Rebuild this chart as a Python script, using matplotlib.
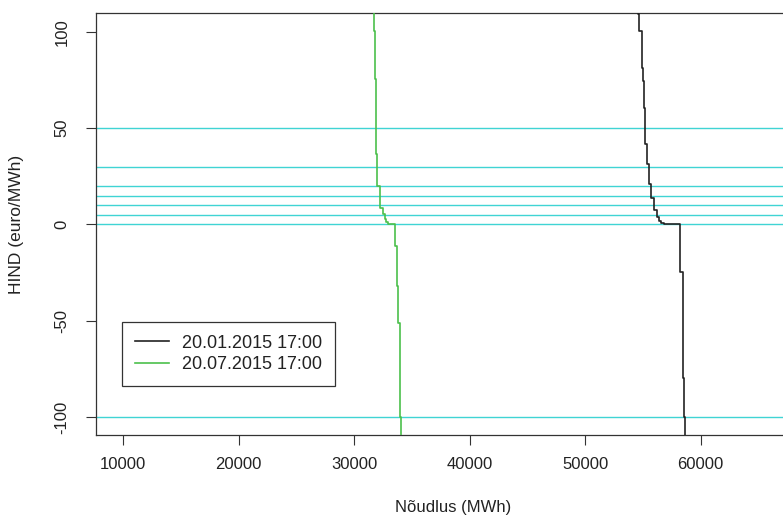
import matplotlib
matplotlib.use("Agg")
import matplotlib.pyplot as plt

plt.rcParams['font.family'] = ['Liberation Sans', 'DejaVu Sans']
plt.rcParams['axes.unicode_minus'] = False

# Demand curves: price (euro/MWh) vs demand (MWh)
jan_price = [3000, 109.3, 100.5, 81.3, 74.6, 60.6, 42.0, 31.6, 21.2, 14.0, 7.3, 4.0, 2.0, 1.0, 0.3, 0.0, -24.9, -79.8, -100.0, -500]
jan_demand = [54600, 54680, 54910, 55020, 55110, 55200, 55370, 55540, 55710, 55970, 56230, 56400, 56580, 56800, 57000, 58230, 58490, 58580, 58660, 58750]

jul_price = [3000, 109.3, 100.5, 75.6, 36.8, 20.0, 8.8, 5.7, 3.0, 1.5, 0.5, 0.0, -11.0, -32.0, -51.0, -100.0, -500]
jul_demand = [31700, 31730, 31840, 31930, 31990, 32250, 32510, 32680, 32800, 32950, 33150, 33550, 33700, 33810, 33980, 34070, 34160]

ref_prices = [50, 30, 20, 15, 10, 5, 0, -100]
labels = ["20.01.2015 17:00", "20.07.2015 17:00"]

fig = plt.figure(figsize=(7.83, 5.22), dpi=100)
W, H = 783, 522
right_px = 810
ax = fig.add_axes([96 / W, 1 - 435 / H, (right_px - 96) / W, (435 - 13) / H])

for p in ref_prices:
    ax.axhline(p, color='#40d4d4', lw=1.0, zorder=1)

ax.step(jan_demand, jan_price, where='pre', color='#222222', lw=1.2, label=labels[0], zorder=3)
ax.step(jul_demand, jul_price, where='pre', color='#4cc04c', lw=1.2, label=labels[1], zorder=3)

x_left = 7660
px_per_unit = 115.5 / 10000
ax.set_xlim(x_left, x_left + (right_px - 96) / px_per_unit)
ax.set_ylim(-109.3, 109.8)
ax.set_xticks([10000, 20000, 30000, 40000, 50000, 60000])
ax.set_yticks([-100, -50, 0, 50, 100])
ax.tick_params(axis='both', direction='out', length=7, width=0.8, colors='#333333',
               labelsize=12, labelcolor='#222222')
ax.tick_params(axis='x', pad=9)
ax.tick_params(axis='y', pad=12)
for lab in ax.get_yticklabels():
    lab.set_rotation(90)
    lab.set_va('center')
for s in ax.spines.values():
    s.set_color('#333333')
    s.set_linewidth(0.9)

ax.set_xlabel("Nõudlus (MWh)", fontsize=12, color='#222222', labelpad=20)
ax.set_ylabel("HIND (euro/MWh)", fontsize=12.5, color='#222222', labelpad=22)

leg = ax.legend(loc='upper left', bbox_to_anchor=(122 / W, 1 - 322 / H),
                bbox_transform=fig.transFigure, fancybox=False, framealpha=1,
                edgecolor='#333333', fontsize=13, handlelength=1.9,
                borderpad=0.7, labelspacing=0.25, handletextpad=0.75, borderaxespad=0)
leg.get_frame().set_linewidth(0.9)
for t in leg.get_texts():
    t.set_color('#222222')

fig.savefig("out.png", dpi=100)
